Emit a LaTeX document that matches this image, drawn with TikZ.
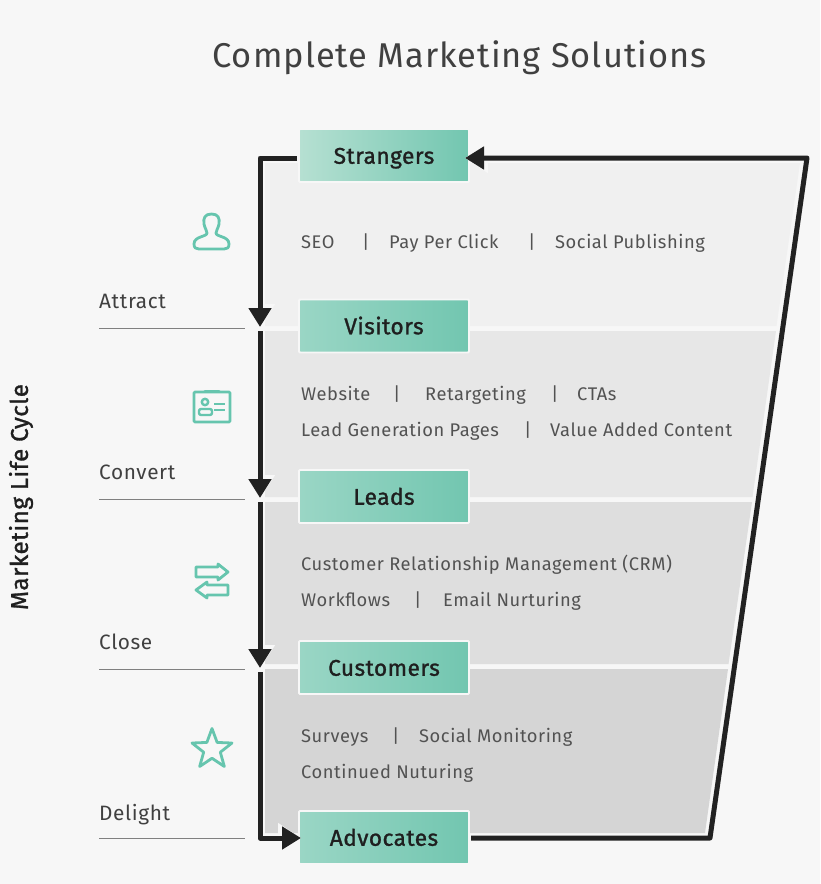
\documentclass[tikz,border=0pt]{standalone}
\usepackage{fontspec}
\setmainfont{Fira Sans}[LetterSpace=3]
\newfontfamily\stagefont{Fira Sans}[LetterSpace=2,FakeBold=1.2]
\usetikzlibrary{arrows.meta,shapes.geometric}
\definecolor{pagegray}{HTML}{F7F7F7}
\definecolor{bandone}{HTML}{F0F0F0}
\definecolor{bandtwo}{HTML}{E7E7E7}
\definecolor{bandthree}{HTML}{DEDEDE}
\definecolor{bandfour}{HTML}{D5D5D5}
\definecolor{flowblack}{HTML}{222222}
\definecolor{tealdark}{HTML}{72C6B0}
\definecolor{teallight}{HTML}{9AD6C5}
\definecolor{tealpale}{HTML}{B6E0D2}
\definecolor{iconteal}{HTML}{66C5AE}
\tikzset{
  stagebox/.style={draw=pagegray,line width=1.8pt,rounded corners=1pt,left color=teallight,right color=tealdark,
    minimum width=170pt,minimum height=53pt,inner sep=0pt,text=black!88,text height=18pt,text depth=1.5pt,
    font=\stagefont\fontsize{22.7}{22.7}\selectfont},
  flowline/.style={line width=5pt,draw=flowblack,line join=round,-{Triangle[length=19pt,width=22pt]}},
  flowhalo/.style={line width=5pt,draw=pagegray,-{Triangle[length=23pt,width=29pt]}},
  item/.style={anchor=base west,inner sep=0pt,text=black!68,font=\fontsize{18.3}{18.3}\selectfont},
  stagename/.style={item,text=black!75,font=\fontsize{20.8}{20.8}\selectfont},
  stageline/.style={draw=black!50,line width=0.9pt},
  icon/.style={draw=iconteal,line width=2.8pt,line join=round}
}
\begin{document}
\begin{tikzpicture}[x=1pt,y=-1pt]
\fill[pagegray] (0,0) rectangle (820,884);
\useasboundingbox (0,0) rectangle (820,884);

% bands
\fill[bandone] (265,163) -- (800,163) -- (776.5,326) -- (265,326) -- cycle;
\fill[bandtwo] (265,331) -- (776,331) -- (752.5,497) -- (265,497) -- cycle;
\fill[bandthree] (265,502) -- (752,502) -- (728.5,664) -- (265,664) -- cycle;
\fill[bandfour] (265,669) -- (728,669) -- (705,833) -- (265,833) -- cycle;

% title
\node[anchor=base,inner sep=0pt,text=black!75,font=\fontsize{34.4}{34.4}\selectfont] (title) at (459.5,67) {Complete Marketing Solutions};
\node[rotate=90,inner sep=0pt,text=black!88,font=\stagefont\fontsize{24.2}{24.2}\selectfont] (cycle) at (21,497) {Marketing Life Cycle};

% stages
\node[stagebox,left color=tealpale] (strangers) at (384,155.5) {Strangers};
\node[stagebox] (visitors) at (384,326) {Visitors};
\node[stagebox] (leads) at (384,496.5) {Leads};
\node[stagebox] (customers) at (384,667.5) {Customers};
\node[stagebox] (advocates) at (384,837.5) {Advocates};

% flow
\coordinate (topleft) at (260,158);
\coordinate (attract) at (260,327);
\coordinate (convert) at (260,498);
\coordinate (close) at (260,668);
\coordinate (delight) at (260,838);
\coordinate (stop) at (301,838);
\coordinate (start) at (297,158);
\coordinate (tipback) at (465,158);
\coordinate (farbottom) at (710,838);
\coordinate (fartop) at (807,158);
\coordinate (leave) at (471,838);
\draw[flowhalo] (490,158) -- (tipback);
\draw[flowhalo] (260,309) -- (attract);
\draw[flowhalo] (260,480) -- (convert);
\draw[flowhalo] (260,650) -- (close);
\draw[flowhalo] (280,838) -- (stop);
\draw[flowline] (start) -- (topleft) -- (attract);
\draw[flowline,shorten <=4pt] (attract) -- (convert);
\draw[flowline,shorten <=4pt] (convert) -- (close);
\draw[flowline,shorten <=4pt] (close) -- (delight) -- (stop);
\draw[flowline] (leave) -- (farbottom) -- (fartop) -- (tipback);

% left labels
\node[stagename] (attractname) at (99,308) {Attract};
\draw[stageline] (99,328) -- (245,328);
\node[stagename] (convertname) at (99,479) {Convert};
\draw[stageline] (99,499) -- (245,499);
\node[stagename] (closename) at (99,649) {Close};
\draw[stageline] (99,669) -- (245,669);
\node[stagename] (delightname) at (99,820) {Delight};
\draw[stageline] (99,838) -- (245,838);

% items
\node[item] (seo) at (301,248) {SEO};
\node[item] at (362,248) {|};
\node[item] (ppc) at (389,248) {Pay Per Click};
\node[item] at (528,248) {|};
\node[item] (social) at (555,248) {Social Publishing};

\node[item] (website) at (301,400) {Website};
\node[item] at (393,400) {|};
\node[item] (retarget) at (425,400) {Retargeting};
\node[item] at (551,400) {|};
\node[item] (cta) at (577,400) {CTAs};
\node[item] (pages) at (301,436) {Lead Generation Pages};
\node[item] at (524,436) {|};
\node[item] (value) at (550,436) {Value Added Content};

\node[item] (crm) at (301,570) {Customer Relationship Management (CRM)};
\node[item] (workflows) at (301,606) {Workflows};
\node[item] at (414,606) {|};
\node[item] (email) at (443,606) {Email Nurturing};

\node[item] (surveys) at (301,742) {Surveys};
\node[item] at (392,742) {|};
\node[item] (monitor) at (419,742) {Social Monitoring};
\node[item] (nuturing) at (301,778) {Continued Nuturing};

% icons
\draw[icon] (211.5,214) .. controls (205,214) and (203,218) .. (204,224) .. controls (204.5,228) and (207,230) .. (207,233)
  .. controls (207,237) and (194,236) .. (194,244) .. controls (194,248) and (196,249) .. (199,249) -- (224,249)
  .. controls (227,249) and (229,248) .. (229,244) .. controls (229,236) and (216,237) .. (216,233)
  .. controls (216,230) and (218.5,228) .. (219,224) .. controls (220,218) and (218,214) .. (211.5,214) -- cycle;

\draw[icon,rounded corners=1pt] (194,392) rectangle (230,422);
\draw[icon,line cap=round] (205,391) -- (219,391);
\draw[icon,line width=2.4pt] (205,402) circle (3.2);
\draw[icon,line width=2.4pt,rounded corners=2pt] (199,415) rectangle (212,409);
\draw[icon,line width=2.4pt] (214,404) -- (225,404);
\draw[icon,line width=2.4pt] (214,410) -- (225,410);

\draw[icon] (196,567) -- (218,567) -- (218,564) -- (228,572) -- (218,580) -- (218,577) -- (196,577) -- cycle;
\draw[icon] (228,585) -- (207,585) -- (207,582) -- (196,590) -- (207,598) -- (207,595) -- (228,595) -- cycle;

\node[star,star points=5,star point ratio=2.4,draw=iconteal,line width=2.8pt,line join=round,minimum size=42pt,inner sep=0pt] (staricon) at (212,749.5) {};
\end{tikzpicture}
\end{document}
